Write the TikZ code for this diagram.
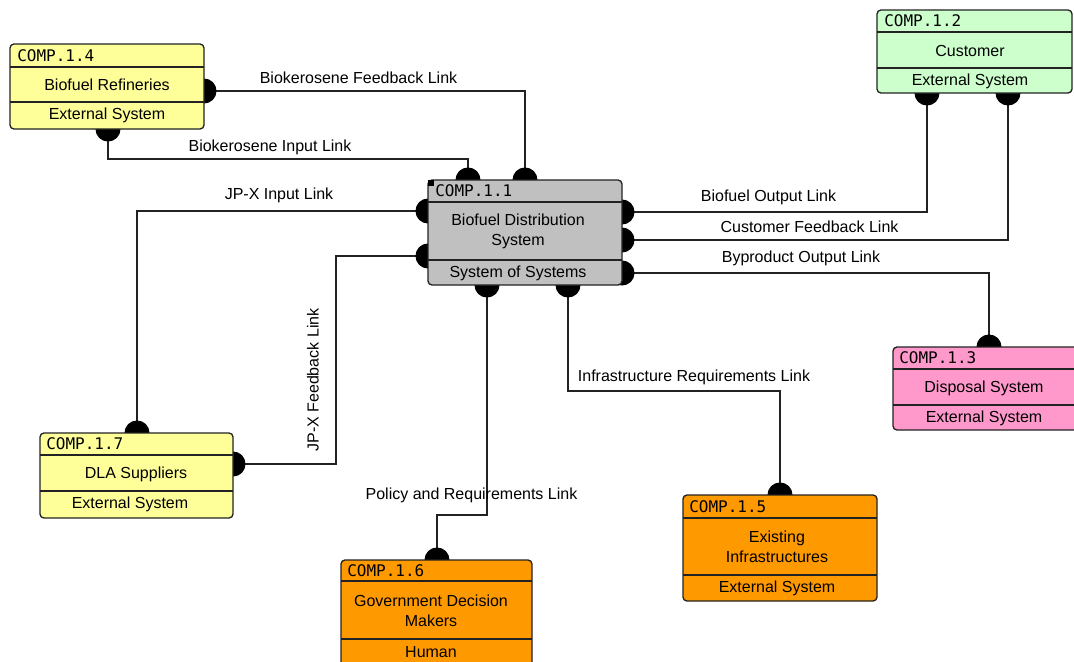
\documentclass[tikz,border=0pt]{standalone}
\usepackage{fontspec}
\setmainfont{Liberation Sans}
\newfontfamily\monofnt{DejaVu Sans Mono}
\usetikzlibrary{fit}
\definecolor{cyel}{HTML}{FFFF99}
\definecolor{cgrn}{HTML}{CCFFCC}
\definecolor{cpnk}{HTML}{FF99CC}
\definecolor{corg}{HTML}{FF9900}
\definecolor{cgry}{HTML}{C0C0C0}
\definecolor{cline}{HTML}{222222}
\begin{document}
\begin{tikzpicture}[x=0.75pt,y=-0.75pt,
  font=\fontsize{12}{15}\selectfont,
  boxfr/.style={draw=cline, line width=1pt, rounded corners=3pt, inner sep=0pt},
  divl/.style={draw=cline, line width=1pt},
  link/.style={draw=cline, line width=0.9pt},
  ball/.style={fill=black},
  hdr/.style={anchor=west, inner sep=0pt, font=\monofnt\fontsize{12}{14}\selectfont},
  txt/.style={align=center, inner sep=0pt},
  lbl/.style={inner sep=0pt}]
\useasboundingbox (0,0) rectangle (1074,661);
% ports
\coordinate (p14r) at (204,91);
\coordinate (p14b) at (108,129);
\coordinate (p11t1) at (468,180);
\coordinate (p11t2) at (525,180);
\coordinate (p11l1) at (428,211);
\coordinate (p11l2) at (428,256);
\coordinate (p11r1) at (622,212);
\coordinate (p11r2) at (622,240);
\coordinate (p11r3) at (622,273);
\coordinate (p11b1) at (487,285);
\coordinate (p11b2) at (568,285);
\coordinate (p12b1) at (927,93);
\coordinate (p12b2) at (1008,93);
\coordinate (p13t) at (989,347);
\coordinate (p17t) at (137,433);
\coordinate (p17r) at (233,464);
\coordinate (p16t) at (437,560);
\coordinate (p15t) at (780,495);
% connectors
\draw[link] (p14r) -| (p11t2);
\draw[link] (p14b) -- ++(0,30) -| (p11t1);
\draw[link] (p11l1) -| (p17t);
\draw[link] (p11l2) -- ++(-92,0) |- (p17r);
\draw[link] (p11r1) -| (p12b1);
\draw[link] (p11r2) -| (p12b2);
\draw[link] (p11r3) -| (p13t);
\draw[link] (p11b2) -- ++(0,106) -| (p15t);
\draw[link] (p11b1) -- ++(0,230) -| (p16t);
% balls
\foreach \p in {p14r,p14b,p11t1,p11t2,p11l1,p11l2,p11r1,p11r2,p11r3,p11b1,p11b2,p12b1,p12b2,p13t,p17t,p17r,p16t,p15t}
  \fill[ball] (\p) circle[radius=9.4pt];
% boxes
\node[boxfr, fill=cyel, fit={(10,44)(204,129)}] (c14) {};
\draw[divl] (10,67) -- (204,67) (10,102) -- (204,102);
\node[boxfr, fill=cgry, fit={(428,180)(622,285)}] (c11) {};
\draw[divl] (428,202) -- (622,202) (428,260) -- (622,260);
\fill[black] (428,180) rectangle (434,186);
\node[boxfr, fill=cgrn, fit={(877,10)(1072,93)}] (c12) {};
\draw[divl] (877,32) -- (1072,32) (877,68) -- (1072,68);
\node[boxfr, fill=cpnk, fit={(893,347)(1090,430)}] (c13) {};
\draw[divl] (893,369) -- (1090,369) (893,405) -- (1090,405);
\node[boxfr, fill=cyel, fit={(40,433)(233,518)}] (c17) {};
\draw[divl] (40,455) -- (233,455) (40,491) -- (233,491);
\node[boxfr, fill=corg, fit={(341,560)(532,690)}] (c16) {};
\draw[divl] (341,581) -- (532,581) (341,639) -- (532,639);
\node[boxfr, fill=corg, fit={(683,495)(877,601)}] (c15) {};
\draw[divl] (683,518) -- (877,518) (683,575) -- (877,575);
% box texts
\node[hdr] (h14) at (17,55.5) {COMP.1.4};
\node[txt] (m14) at (107,84.5) {Biofuel Refineries};
\node[txt] (b14) at (107,115.5) {External System};
\node[hdr] (h11) at (435,191) {COMP.1.1};
\node[txt] (m11) at (518,231) {Biofuel Distribution\\System};
\node[txt] (b11) at (518,273) {System of Systems};
\node[hdr] (h12) at (884,21) {COMP.1.2};
\node[txt] (m12) at (970,51) {Customer};
\node[txt] (b12) at (970,81) {External System};
\node[hdr] (h13) at (899,358) {COMP.1.3};
\node[txt] (m13) at (984,388) {Disposal System};
\node[txt] (b13) at (984,418) {External System};
\node[hdr] (h17) at (46,444) {COMP.1.7};
\node[txt] (m17) at (136,474) {DLA Suppliers};
\node[txt] (b17) at (130,504) {External System};
\node[hdr] (h16) at (347,570.5) {COMP.1.6};
\node[txt] (m16) at (431,611) {Government Decision\\Makers};
\node[txt] (b16) at (431,652) {Human};
\node[hdr] (h15) at (689,506.5) {COMP.1.5};
\node[txt] (m15) at (777,547) {Existing\\Infrastructures};
\node[txt] (b15) at (777,588) {External System};
% link labels
\node[lbl] (l1) at (358.5,78) {Biokerosene Feedback Link};
\node[lbl] (l2) at (270,147) {Biokerosene Input Link};
\node[lbl] (l3) at (279,195) {JP-X Input Link};
\node[lbl, rotate=90] (l4) at (313,380) {JP-X Feedback Link};
\node[lbl] (l5) at (768.5,197) {Biofuel Output Link};
\node[lbl] (l6) at (809.5,227) {Customer Feedback Link};
\node[lbl] (l7) at (801,258) {Byproduct Output Link};
\node[lbl] (l8) at (694,377) {Infrastructure Requirements Link};
\node[lbl] (l9) at (471.5,495) {Policy and Requirements Link};
\end{tikzpicture}
\end{document}
